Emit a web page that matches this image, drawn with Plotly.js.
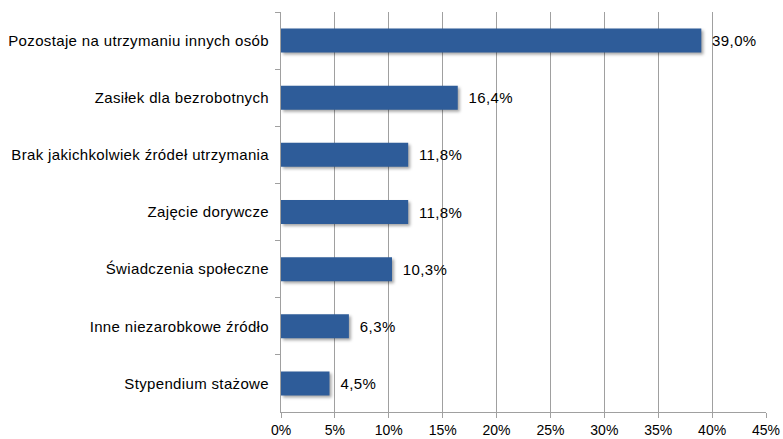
<!DOCTYPE html>
<html>
<head>
<meta charset="utf-8">
<script src="https://cdn.plot.ly/plotly-3.0.1.min.js"></script>
<style>
html,body{margin:0;padding:0;background:#fff;}
#chart{width:783px;height:439px;}
#chart .ytick text{letter-spacing:0.35px;}
#chart .bartext text, #chart text.bartext{letter-spacing:0.4px;}
#chart .trace.bars .point path{filter:drop-shadow(2px 2px 1.5px rgba(0,0,0,0.35));}
</style>
</head>
<body>
<div id="chart"></div>
<script>
const categories = [
  "Pozostaje na utrzymaniu innych osób",
  "Zasiłek dla bezrobotnych",
  "Brak jakichkolwiek źródeł utrzymania",
  "Zajęcie dorywcze",
  "Świadczenia społeczne",
  "Inne niezarobkowe źródło",
  "Stypendium stażowe"
];
const values = [39.0, 16.4, 11.8, 11.8, 10.3, 6.3, 4.5];
const xTicks = [0, 5, 10, 15, 20, 25, 30, 35, 40, 45];
const xTickLabels = xTicks.map(v => v + "%");

const trace = {
  type: "bar",
  orientation: "h",
  y: categories,
  x: values,
  marker: {color: "#2E5C99", line: {width: 0}},
  texttemplate: "\u00a0\u00a0%{x:.1f}%",
  textposition: "outside",
  cliponaxis: false,
  textfont: {family: "Liberation Sans, Arial, sans-serif", size: 15, color: "#000"},
  hoverinfo: "none"
};

const layout = {
  width: 783, height: 439,
  margin: {l: 281, r: 17, t: 12, b: 27},
  paper_bgcolor: "#fff", plot_bgcolor: "#fff",
  separators: ",.",
  showlegend: false,
  bargap: 0.58,
  font: {family: "Liberation Sans, Arial, sans-serif", size: 14, color: "#000"},
  xaxis: {
    range: [0, 45],
    tickvals: xTicks, ticktext: xTickLabels,
    showgrid: true, gridcolor: "#A0A0A0", gridwidth: 1,
    zeroline: false,
    showline: true, linecolor: "#A0A0A0", linewidth: 1,
    ticks: "outside", ticklen: 5, tickcolor: "#A0A0A0",
    tickfont: {size: 14}
  },
  yaxis: {
    type: "category",
    autorange: "reversed",
    showgrid: false, zeroline: false,
    showline: true, linecolor: "#A0A0A0", linewidth: 1,
    ticks: "outside", ticklen: 5, tickcolor: "#A0A0A0",
    tickson: "boundaries",
    ticklabelstandoff: 8,
    tickfont: {size: 15}
  }
};

Plotly.newPlot("chart", [trace], layout, {displayModeBar: false, staticPlot: true});
</script>
</body>
</html>
